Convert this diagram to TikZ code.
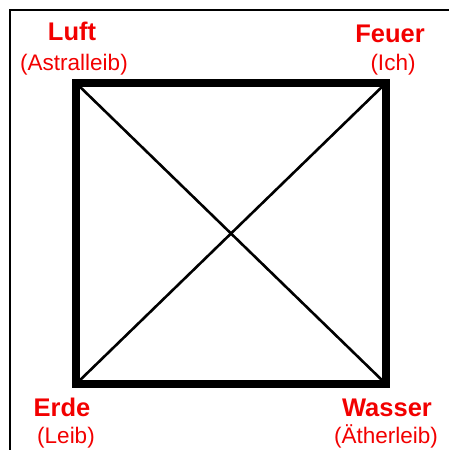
\documentclass[tikz,border=0pt]{standalone}
\usepackage{fontspec}
\setmainfont{Liberation Sans}
\usetikzlibrary{positioning,calc}
\definecolor{elRed}{HTML}{F20000}
\definecolor{elInk}{HTML}{000000}
\tikzset{
  elem/.style={text=elRed, font=\fontsize{25.5}{27}\selectfont\bfseries, inner sep=0pt, anchor=base},
  body/.style={text=elRed, font=\fontsize{22.5}{25}\selectfont, inner sep=0pt, anchor=base},
  edge/.style={draw=elInk, line width=8pt, line join=miter},
  diag/.style={draw=elInk, line width=2.6pt},
  frame/.style={draw=elInk, line width=2pt},
}
\begin{document}
\begin{tikzpicture}[x=1pt, y=-1pt]
    \useasboundingbox (0,0) rectangle (449,450);
    % outer frame, cut at the right and bottom
    \coordinate (fTR) at (460,10); \coordinate (fTL) at (9.5,10); \coordinate (fBL) at (9.5,460);
    \draw[frame] (fTR) -- (fTL) -- (fBL);
    % corners of the square
    \coordinate (luft) at (76,83); \coordinate (feuer) at (386,83);
    \coordinate (wasser) at (386,384); \coordinate (erde) at (76,384);
    \draw[diag] (luft) -- (wasser); \draw[diag] (feuer) -- (erde);
    \draw[edge] (luft) -- (feuer) -- (wasser) -- (erde) -- cycle;
    % labels
    \node[elem] (luftT) at (72,40) {Luft};
    \node[body] (luftB) at (74,70) {(Astralleib)};
    \node[elem] (feuerT) at (390,42) {Feuer};
    \node[body] (feuerB) at (393,70) {(Ich)};
    \node[elem] (erdeT) at (62,416) {Erde};
    \node[body] (erdeB) at (66,443) {(Leib)};
    \node[elem] (wasserT) at (387,416) {Wasser};
    \node[body] (wasserB) at (386,443) {(Ätherleib)};
\end{tikzpicture}
\end{document}
